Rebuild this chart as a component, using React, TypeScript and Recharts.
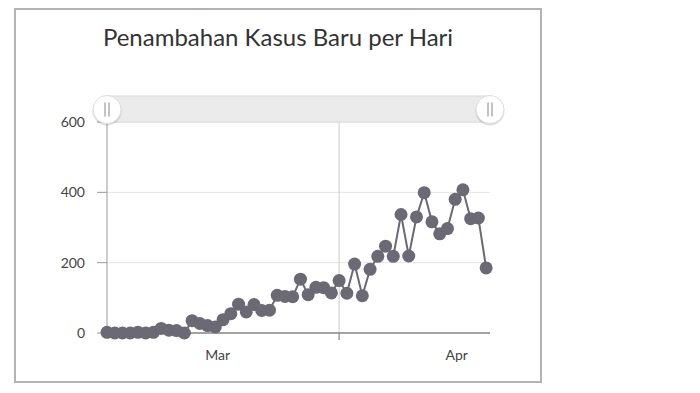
import React from 'react';
import { LineChart, Line, XAxis, YAxis, CartesianGrid, ReferenceLine } from 'recharts';

// daily new cases, Indonesia, 2 Mar - 20 Apr 2020
const dates = [
  '2020-03-02', '2020-03-03', '2020-03-04', '2020-03-05', '2020-03-06', '2020-03-07', '2020-03-08',
  '2020-03-09', '2020-03-10', '2020-03-11', '2020-03-12', '2020-03-13', '2020-03-14', '2020-03-15',
  '2020-03-16', '2020-03-17', '2020-03-18', '2020-03-19', '2020-03-20', '2020-03-21', '2020-03-22',
  '2020-03-23', '2020-03-24', '2020-03-25', '2020-03-26', '2020-03-27', '2020-03-28', '2020-03-29',
  '2020-03-30', '2020-03-31', '2020-04-01', '2020-04-02', '2020-04-03', '2020-04-04', '2020-04-05',
  '2020-04-06', '2020-04-07', '2020-04-08', '2020-04-09', '2020-04-10', '2020-04-11', '2020-04-12',
  '2020-04-13', '2020-04-14', '2020-04-15', '2020-04-16', '2020-04-17', '2020-04-18', '2020-04-19',
  '2020-04-20',
];
const newCases = [
  2, 0, 0, 0, 2, 0, 2,
  13, 8, 7, 0, 35, 27, 21,
  17, 38, 55, 82, 60, 81, 64,
  65, 107, 104, 103, 153, 109, 130,
  129, 114, 149, 113, 196, 106, 181,
  218, 247, 218, 337, 219, 330, 399,
  316, 282, 297, 380, 407, 325, 327,
  185,
];

// x is days since 1 Mar
const monthLabels = ['Mar', 'Apr'];
const monthCenters = [15.3, 46.2];
const monthStarts = [31];
const yTicks = [0, 200, 400, 600];

const MAR1 = Date.UTC(2020, 2, 1);
const data = dates.map((d, i) => ({
  day: (Date.parse(d + 'T00:00:00Z') - MAR1) / 86400000,
  cases: newCases[i],
}));

const FONT = 'Lato, "Open Sans", sans-serif';
const DOT = '#6a6974';

const XTick = (props: any) => {
  const { x, y, payload } = props;
  const v = payload.value;
  if (monthStarts.includes(v)) {
    return <line x1={x} x2={x} y1={y} y2={y + 7} stroke="#888" strokeWidth={1.2} />;
  }
  const idx = monthCenters.indexOf(v);
  return (
    <text x={x} y={y + 27} textAnchor="middle" fontSize={14} fill="#444" fontFamily={FONT}>
      {monthLabels[idx]}
    </text>
  );
};

const Handle = ({ cx, cy }: { cx: number; cy: number }) => (
  <g>
    <circle cx={cx} cy={cy + 1.5} r={14.5} fill="rgba(0,0,0,0.12)" />
    <circle cx={cx} cy={cy} r={14} fill="#fff" stroke="#ddd" strokeWidth={1} />
    <line x1={cx - 2} x2={cx - 2} y1={cy - 7} y2={cy + 7} stroke="#999" strokeWidth={1.2} />
    <line x1={cx + 2} x2={cx + 2} y1={cy - 7} y2={cy + 7} stroke="#999" strokeWidth={1.2} />
  </g>
);

export default function App() {
  return (
    <div
      style={{
        position: 'relative',
        marginLeft: 6,
        width: 528,
        height: 375,
        border: '2px solid #b3b3b3',
        boxSizing: 'border-box',
        background: '#fff',
        fontFamily: FONT,
      }}
    >
      <div
        style={{
          position: 'absolute',
          top: 12,
          left: 0,
          width: '100%',
          textAlign: 'center',
          fontSize: 24,
          color: '#333',
        }}
      >
        Penambahan Kasus Baru per Hari
      </div>
      <LineChart
        width={524}
        height={371}
        data={data}
        margin={{ top: 112, right: 50, bottom: 18, left: 0 }}
      >
        <CartesianGrid horizontal vertical={false} stroke="#e4e4e4" />
        <XAxis
          dataKey="day"
          type="number"
          domain={[1, 50.5]}
          ticks={[...monthCenters, ...monthStarts]}
          tick={<XTick />}
          tickLine={false}
          tickSize={0}
          tickMargin={0}
          interval={0}
          axisLine={{ stroke: '#888', strokeWidth: 1.5 }}
          height={30}
        />
        <YAxis
          domain={[0, 600]}
          ticks={yTicks}
          width={91}
          tickSize={10}
          tickMargin={12}
          tick={{ fontSize: 14, fill: '#444', fontFamily: FONT }}
          tickLine={{ stroke: '#999' }}
          axisLine={{ stroke: '#999' }}
        />
        <ReferenceLine x={monthStarts[0]} stroke="#ccc" strokeWidth={1} />
        <Line
          type="linear"
          dataKey="cases"
          stroke={DOT}
          strokeWidth={2}
          dot={{ r: 6.5, fill: DOT, stroke: DOT, strokeWidth: 0 }}
          activeDot={false}
          isAnimationActive={false}
        />
      </LineChart>
      <svg
        width={524}
        height={120}
        style={{ position: 'absolute', left: 0, top: 0, pointerEvents: 'none' }}
      >
        <rect x={91} y={86} width={383} height={26} fill="#ebebeb" stroke="#dcdcdc" strokeWidth={1} />
        <Handle cx={91} cy={99.5} />
        <Handle cx={474} cy={99.5} />
      </svg>
    </div>
  );
}
